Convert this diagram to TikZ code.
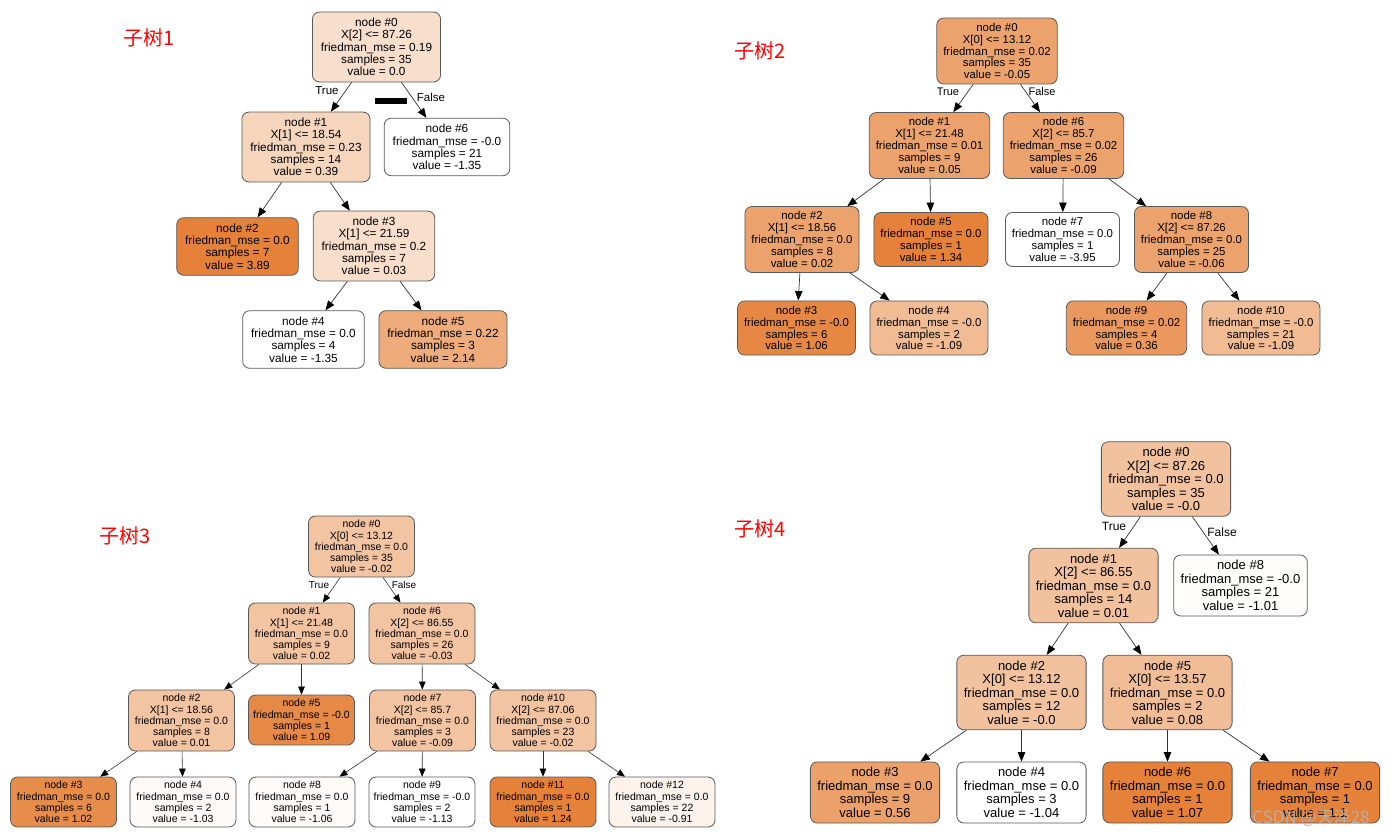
\documentclass[tikz,border=0pt]{standalone}
\usepackage{fontspec}
\setmainfont{Liberation Sans}
\newfontfamily\cjk{Noto Sans CJK SC}
\usepackage{tikz}
\usetikzlibrary{arrows.meta}

% fill shades of the tree nodes
\definecolor{orFull}{HTML}{E58139}
\definecolor{aZero}{HTML}{F8DECC}
\definecolor{aOne}{HTML}{F6D5BD}
\definecolor{aThree}{HTML}{F8DECB}
\definecolor{aFive}{HTML}{EEAB7B}
\definecolor{bMid}{HTML}{ECA26D}
\definecolor{bDeep}{HTML}{E68844}
\definecolor{bLight}{HTML}{F1BB94}
\definecolor{bNine}{HTML}{EA985E}
\definecolor{cMid}{HTML}{F3C4A2}
\definecolor{cFive}{HTML}{E78946}
\definecolor{cThree}{HTML}{E78D4B}
\definecolor{cFour}{HTML}{FEFAF7}
\definecolor{cEight}{HTML}{FEFBF9}
\definecolor{cTwelve}{HTML}{FDF3EC}
\definecolor{dMid}{HTML}{F2C29F}
\definecolor{dFive}{HTML}{F1BD97}
\definecolor{dThree}{HTML}{ECA16B}
\definecolor{dEight}{HTML}{FEFDFC}

\begin{document}
\begin{tikzpicture}[x=1pt,y=-1pt,
  tn/.style={draw=black!65,line width=0.8pt,rounded corners=7pt,align=center,fill=white},
  sa/.style={tn,font=\fontsize{11.8}{12.3}\selectfont,inner xsep=8.5pt,inner ysep=6pt},
  sb/.style={tn,font=\fontsize{11.4}{11.9}\selectfont,inner xsep=6.5pt,inner ysep=5pt},
  sc/.style={tn,font=\fontsize{10.5}{11.2}\selectfont,inner xsep=4.5pt,inner ysep=4.3pt,minimum width=106pt},
  sd/.style={tn,font=\fontsize{13}{13.5}\selectfont,inner xsep=7pt,inner ysep=5.5pt},
  lab/.style={inner sep=0pt},
  title/.style={inner sep=0pt,text=red,font=\cjk\fontsize{20}{20}\selectfont},
  arr/.style={-{Triangle[length=9.5pt,width=7.5pt,color=black]},black!80,line width=0.7pt},
  arrs/.style={-{Triangle[length=8pt,width=6.5pt,color=black]},black!80,line width=0.6pt},
]
\useasboundingbox[fill=white] (0,0) rectangle (1392,838);

% subtree 1
\node[title] (t1) at (149,38) {子树1};
\node[sa,fill=aZero] (s1n0) at (376.5,47) {node \#0\\X[2] <= 87.26\\friedman\_mse = 0.19\\samples = 35\\value = 0.0};
\node[sa,fill=aOne] (s1n1) at (306,147) {node \#1\\X[1] <= 18.54\\friedman\_mse = 0.23\\samples = 14\\value = 0.39};
\node[sa] (s1n6) at (447,147) {node \#6\\friedman\_mse = -0.0\\samples = 21\\value = -1.35};
\node[sa,fill=orFull] (s1n2) at (237.5,246.5) {node \#2\\friedman\_mse = 0.0\\samples = 7\\value = 3.89};
\node[sa,fill=aThree] (s1n3) at (374,246) {node \#3\\X[1] <= 21.59\\friedman\_mse = 0.2\\samples = 7\\value = 0.03};
\node[sa] (s1n4) at (303.5,339.5) {node \#4\\friedman\_mse = 0.0\\samples = 4\\value = -1.35};
\node[sa,fill=aFive] (s1n5) at (443,339.5) {node \#5\\friedman\_mse = 0.22\\samples = 3\\value = 2.14};
\node[lab,font=\fontsize{11.5}{12}\selectfont] (s1true) at (327,91) {True};
\node[lab,font=\fontsize{11.5}{12}\selectfont] (s1false) at (431,97) {False};
\fill (375,98) rectangle (407,104);
\draw[arr] (s1n0) -- (s1n1);
\draw[arr] (s1n0) -- (s1n6);
\draw[arr] (s1n1) -- (s1n2);
\draw[arr] (s1n1) -- (s1n3);
\draw[arr] (s1n3) -- (s1n4);
\draw[arr] (s1n3) -- (s1n5);

% subtree 2
\node[title] (t2) at (760,51) {子树2};
\node[sb,fill=bMid] (s2n0) at (997,51) {node \#0\\X[0] <= 13.12\\friedman\_mse = 0.02\\samples = 35\\value = -0.05};
\node[sb,fill=bMid] (s2n1) at (929.5,145.5) {node \#1\\X[1] <= 21.48\\friedman\_mse = 0.01\\samples = 9\\value = 0.05};
\node[sb,fill=bMid] (s2n6) at (1063.5,145.5) {node \#6\\X[2] <= 85.7\\friedman\_mse = 0.02\\samples = 26\\value = -0.09};
\node[sb,fill=bMid] (s2n2) at (802,239.5) {node \#2\\X[1] <= 18.56\\friedman\_mse = 0.0\\samples = 8\\value = 0.02};
\node[sb,fill=orFull] (s2n5) at (931,239.5) {node \#5\\friedman\_mse = 0.0\\samples = 1\\value = 1.34};
\node[sb] (s2n7) at (1062.5,239.5) {node \#7\\friedman\_mse = 0.0\\samples = 1\\value = -3.95};
\node[sb,fill=bMid] (s2n8) at (1191.5,239.5) {node \#8\\X[2] <= 87.26\\friedman\_mse = 0.0\\samples = 25\\value = -0.06};
\node[sb,fill=bDeep] (s2n3) at (796.5,328) {node \#3\\friedman\_mse = -0.0\\samples = 6\\value = 1.06};
\node[sb,fill=bLight] (s2n4) at (929,328) {node \#4\\friedman\_mse = -0.0\\samples = 2\\value = -1.09};
\node[sb,fill=bNine] (s2n9) at (1126.5,328) {node \#9\\friedman\_mse = 0.02\\samples = 4\\value = 0.36};
\node[sb,fill=bLight] (s2n10) at (1261,328) {node \#10\\friedman\_mse = -0.0\\samples = 21\\value = -1.09};
\node[lab,font=\fontsize{11}{12}\selectfont] (s2true) at (948,92) {True};
\node[lab,font=\fontsize{11}{12}\selectfont] (s2false) at (1042,92) {False};
\draw[arr] (s2n0) -- (s2n1);
\draw[arr] (s2n0) -- (s2n6);
\draw[arr] (s2n1) -- (s2n2);
\draw[arr] (s2n1) -- (s2n5);
\draw[arr] (s2n6) -- (s2n7);
\draw[arr] (s2n6) -- (s2n8);
\draw[arr] (s2n2) -- (s2n3);
\draw[arr] (s2n2) -- (s2n4);
\draw[arr] (s2n8) -- (s2n9);
\draw[arr] (s2n8) -- (s2n10);

% subtree 3
\node[title] (t3) at (125,536) {子树3};
\node[sc,fill=cMid] (s3n0) at (361.5,546.5) {node \#0\\X[0] <= 13.12\\friedman\_mse = 0.0\\samples = 35\\value = -0.02};
\node[sc,fill=cMid] (s3n1) at (301.5,633.5) {node \#1\\X[1] <= 21.48\\friedman\_mse = 0.0\\samples = 9\\value = 0.02};
\node[sc,fill=cMid] (s3n6) at (422,633.5) {node \#6\\X[2] <= 86.55\\friedman\_mse = 0.0\\samples = 26\\value = -0.03};
\node[sc,fill=cMid] (s3n2) at (181.5,720.5) {node \#2\\X[1] <= 18.56\\friedman\_mse = 0.0\\samples = 8\\value = 0.01};
\node[sc,fill=cFive] (s3n5) at (301.5,720) {node \#5\\friedman\_mse = -0.0\\samples = 1\\value = 1.09};
\node[sc,fill=cMid] (s3n7) at (422.5,720.5) {node \#7\\X[2] <= 85.7\\friedman\_mse = 0.0\\samples = 3\\value = -0.09};
\node[sc,fill=cMid] (s3n10) at (543,720.5) {node \#10\\X[2] <= 87.06\\friedman\_mse = 0.0\\samples = 23\\value = -0.02};
\node[sc,fill=cThree] (s3n3) at (63.5,802) {node \#3\\friedman\_mse = 0.0\\samples = 6\\value = 1.02};
\node[sc,fill=cFour] (s3n4) at (183,802) {node \#4\\friedman\_mse = 0.0\\samples = 2\\value = -1.03};
\node[sc,fill=cEight] (s3n8) at (302,802) {node \#8\\friedman\_mse = 0.0\\samples = 1\\value = -1.06};
\node[sc] (s3n9) at (422,802) {node \#9\\friedman\_mse = -0.0\\samples = 2\\value = -1.13};
\node[sc,fill=orFull] (s3n11) at (543,802) {node \#11\\friedman\_mse = 0.0\\samples = 1\\value = 1.24};
\node[sc,fill=cTwelve] (s3n12) at (662,802) {node \#12\\friedman\_mse = 0.0\\samples = 22\\value = -0.91};
\node[lab,font=\fontsize{10}{11}\selectfont] (s3true) at (319,585) {True};
\node[lab,font=\fontsize{10}{11}\selectfont] (s3false) at (404,585) {False};
\draw[arrs] (s3n0) -- (s3n1);
\draw[arrs] (s3n0) -- (s3n6);
\draw[arrs] (s3n1) -- (s3n2);
\draw[arrs] (s3n1) -- (s3n5);
\draw[arrs] (s3n6) -- (s3n7);
\draw[arrs] (s3n6) -- (s3n10);
\draw[arrs] (s3n2) -- (s3n3);
\draw[arrs] (s3n2) -- (s3n4);
\draw[arrs] (s3n7) -- (s3n8);
\draw[arrs] (s3n7) -- (s3n9);
\draw[arrs] (s3n10) -- (s3n11);
\draw[arrs] (s3n10) -- (s3n12);

% subtree 4
\node[title] (t4) at (760,529) {子树4};
\node[sd,fill=dMid] (s4n0) at (1166,479) {node \#0\\X[2] <= 87.26\\friedman\_mse = 0.0\\samples = 35\\value = -0.0};
\node[sd,fill=dMid] (s4n1) at (1093.5,585.5) {node \#1\\X[2] <= 86.55\\friedman\_mse = 0.0\\samples = 14\\value = 0.01};
\node[sd,fill=dEight] (s4n8) at (1240.5,585.5) {node \#8\\friedman\_mse = -0.0\\samples = 21\\value = -1.01};
\node[sd,fill=dMid] (s4n2) at (1021.5,692.5) {node \#2\\X[0] <= 13.12\\friedman\_mse = 0.0\\samples = 12\\value = -0.0};
\node[sd,fill=dFive] (s4n5) at (1167.5,692.5) {node \#5\\X[0] <= 13.57\\friedman\_mse = 0.0\\samples = 2\\value = 0.08};
\node[sd,fill=dThree] (s4n3) at (875,792.5) {node \#3\\friedman\_mse = 0.0\\samples = 9\\value = 0.56};
\node[sd] (s4n4) at (1021.5,792.5) {node \#4\\friedman\_mse = 0.0\\samples = 3\\value = -1.04};
\node[sd,fill=orFull] (s4n6) at (1167.5,792.5) {node \#6\\friedman\_mse = 0.0\\samples = 1\\value = 1.07};
\node[sd,fill=orFull] (s4n7) at (1315,792.5) {node \#7\\friedman\_mse = 0.0\\samples = 1\\value = 1.1};
\node[lab,font=\fontsize{12}{13}\selectfont] (s4true) at (1114,526) {True};
\node[lab,font=\fontsize{12}{13}\selectfont] (s4false) at (1222,532) {False};
\draw[arr] (s4n0) -- (s4n1);
\draw[arr] (s4n0) -- (s4n8);
\draw[arr] (s4n1) -- (s4n2);
\draw[arr] (s4n1) -- (s4n5);
\draw[arr] (s4n2) -- (s4n3);
\draw[arr] (s4n2) -- (s4n4);
\draw[arr] (s4n5) -- (s4n6);
\draw[arr] (s4n5) -- (s4n7);

% watermark
\node[inner sep=0pt,text=gray!60,opacity=0.9,font=\cjk\fontsize{17}{17}\selectfont] (mark) at (1311,818) {CSDN @天泽28};
\end{tikzpicture}
\end{document}
